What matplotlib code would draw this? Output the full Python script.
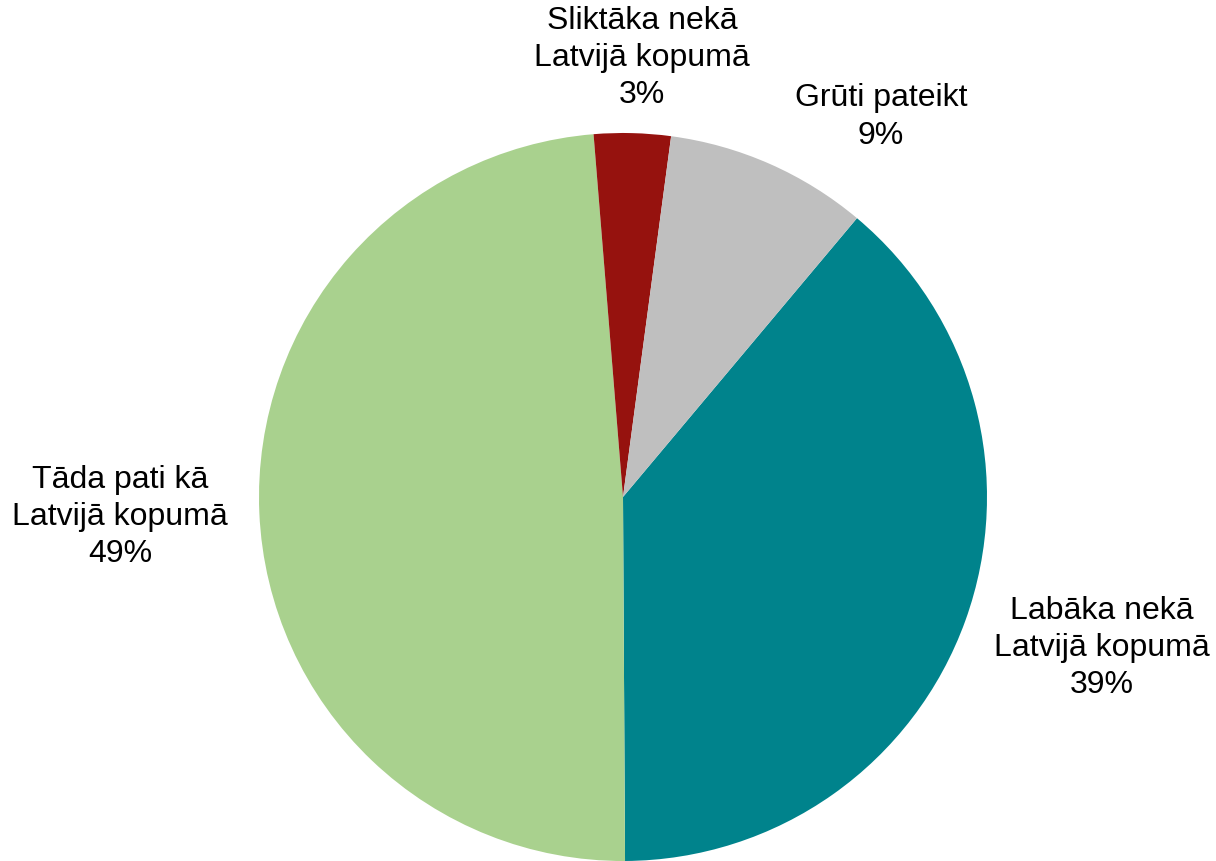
import matplotlib.pyplot as plt

plt.rcParams['font.family'] = ['Liberation Sans', 'DejaVu Sans']

# data (clockwise from the teal slice)
labels = ["Labāka nekā\nLatvijā kopumā", "Tāda pati kā\nLatvijā kopumā",
          "Sliktāka nekā\nLatvijā kopumā", "Grūti pateikt"]
shares = [38.8, 48.8, 3.4, 9.0]
colors = ["#00838C", "#A9D18E", "#96120E", "#BFBFBF"]

# label centres in pixels (x, y from top)
label_pos = [(1102, 648), (120, 517), (642, 58), (881, 117)]

W, H = 1216, 861
fig = plt.figure(figsize=(W / 100, H / 100), dpi=100)
ax = fig.add_axes([0, 0, 1, 1])

cx, cy, r = 623, H - 497, 364
ax.pie(shares, colors=colors, startangle=50, counterclock=False,
       center=(cx, cy), radius=r, frame=False)
ax.set_xlim(0, W)
ax.set_ylim(0, H)
ax.set_aspect('equal')
ax.axis('off')

for lab, val, (x, y) in zip(labels, shares, label_pos):
    ax.text(x, H - y, f"{lab}\n{round(val):.0f}%", ha='center', va='center',
            fontsize=23, color='black', linespacing=1.32)

fig.savefig("out.png", dpi=100)
